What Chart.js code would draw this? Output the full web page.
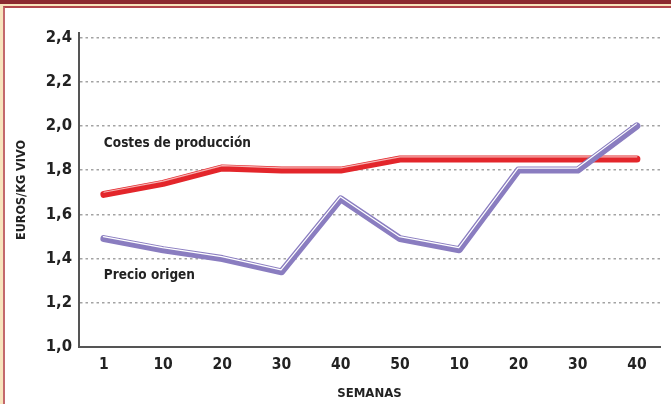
<!DOCTYPE html>
<html>
<head>
<meta charset="utf-8">
<script src="https://cdn.jsdelivr.net/npm/chart.js@4/dist/chart.umd.min.js"></script>
<style>
  body { margin: 0; background: #fff; }
  #frame { position: absolute; left: 0; top: 0; width: 671px; height: 404px; background: #f8e4bd; overflow: hidden; }
  #band { position: absolute; left: 0; top: 0; width: 671px; height: 4px; background: #8c2a30; }
  #inner { position: absolute; left: 3px; top: 6px; right: 0; bottom: 0; background: #fff;
           border-top: 2px solid #b2474c; border-left: 2px solid #c4686c; }
  #chart { position: absolute; left: 0; top: 0; }
</style>
</head>
<body>
<div id="frame"><div id="band"></div><div id="inner"></div></div>
<canvas id="chart" width="671" height="404"></canvas>
<script>
// semanas (two consecutive years)
const weeks = ["1", "10", "20", "30", "40", "50", "10", "20", "30", "40"];
// euros / kg vivo
const costes = [1.69, 1.74, 1.81, 1.80, 1.80, 1.85, 1.85, 1.85, 1.85, 1.85];
const precio = [1.49, 1.44, 1.40, 1.34, 1.67, 1.49, 1.44, 1.80, 1.80, 2.00];
const yTickLabels = ["1,0", "1,2", "1,4", "1,6", "1,8", "2,0", "2,2", "2,4"];

const FONT = '"Liberation Sans Narrow", "DejaVu Sans Condensed", sans-serif';

function toPoints(values) {
  return values.map((v, i) => ({ x: i, y: v }));
}

// shift the thin highlight lines a little so the thick lines look like ribbons
const shiftPlugin = {
  id: "shift",
  beforeDatasetDraw(chart, args) {
    const ds = chart.data.datasets[args.index];
    chart.ctx.save();
    if (ds.shiftX || ds.shiftY) chart.ctx.translate(ds.shiftX || 0, ds.shiftY || 0);
  },
  afterDatasetDraw(chart) {
    chart.ctx.restore();
  },
};

// series names written inside the plot
const seriesLabels = {
  id: "seriesLabels",
  afterDatasetsDraw(chart) {
    const { ctx, scales } = chart;
    ctx.save();
    ctx.font = "bold 13.5px " + FONT;
    ctx.fillStyle = "#222";
    ctx.textBaseline = "middle";
    ctx.fillText("Costes de producción", scales.x.getPixelForValue(0), scales.y.getPixelForValue(1.92));
    ctx.fillText("Precio origen", scales.x.getPixelForValue(0), scales.y.getPixelForValue(1.325));
    ctx.restore();
  },
};

new Chart(document.getElementById("chart"), {
  type: "line",
  data: {
    datasets: [
      {
        data: toPoints(precio),
        borderColor: "#ffffff",
        borderWidth: 1.2,
        shiftX: -0.5,
        shiftY: -2,
      },
      {
        data: toPoints(precio),
        borderColor: "#8a7dc0",
        borderWidth: 7,
      },
      {
        data: toPoints(costes),
        borderColor: "#f6b3b3",
        borderWidth: 1.2,
        shiftY: -2.2,
      },
      {
        data: toPoints(costes),
        borderColor: "#e3262b",
        borderWidth: 7,
      },
    ],
  },
  options: {
    responsive: false,
    animation: false,
    events: [],
    layout: { padding: { top: 33, right: 11, left: 0, bottom: 0 } },
    elements: {
      point: { radius: 0 },
      line: { tension: 0, borderCapStyle: "round", borderJoinStyle: "round", fill: false },
    },
    plugins: {
      legend: { display: false },
      tooltip: { enabled: false },
    },
    scales: {
      x: {
        type: "linear",
        min: -0.42,
        max: 9.39,
        afterFit: (scale) => { scale.height = 57; },
        grid: { display: false, drawTicks: false },
        border: { color: "#555", width: 2 },
        ticks: {
          stepSize: 1,
          includeBounds: false,
          padding: 9,
          color: "#222",
          font: { family: FONT, size: 15.5, weight: "bold" },
          callback: (value) => weeks[value],
        },
        title: {
          display: true,
          text: "SEMANAS",
          color: "#222",
          font: { family: FONT, size: 13, weight: "bold" },
          padding: { top: 0, bottom: 3 },
        },
      },
      y: {
        min: 1.0,
        max: 2.42,
        afterFit: (scale) => { scale.width = 79; },
        grid: {
          drawTicks: false,
          lineWidth: 1.5,
          color: (ctx) => (ctx.tick && ctx.tick.value <= 1.0 ? "transparent" : "#a3a3a3"),
        },
        border: { color: "#555", width: 2, dash: [2.5, 3] },
        ticks: {
          stepSize: 0.2,
          includeBounds: false,
          padding: 7,
          color: "#222",
          font: { family: FONT, size: 16.5, weight: "bold" },
          callback: (value, index) => yTickLabels[index],
        },
        title: {
          display: true,
          text: "EUROS/KG VIVO",
          color: "#222",
          font: { family: FONT, size: 12.5, weight: "bold" },
          padding: { top: 14, bottom: 0 },
        },
      },
    },
  },
  plugins: [shiftPlugin, seriesLabels],
});
</script>
</body>
</html>
